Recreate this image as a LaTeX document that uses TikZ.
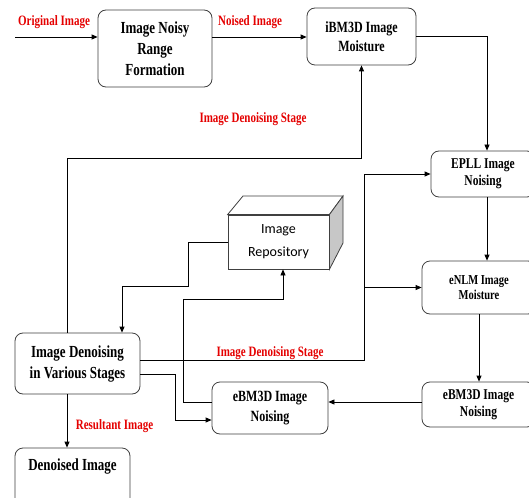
\documentclass[tikz,border=0pt]{standalone}
\usepackage{fontspec}
\usepackage{graphicx}
\setmainfont{Liberation Serif}
\newfontfamily\carl{Carlito}
\newcommand\tl[1]{\scalebox{1}[1.3]{#1}}
\usetikzlibrary{arrows.meta}
\tikzset{
  box/.style={draw=black!75, rounded corners=8pt, line width=0.8pt, align=center, inner sep=0pt},
  fA/.style={font=\bfseries\fontsize{13}{21}\selectfont},
  fB/.style={font=\bfseries\fontsize{12}{19.5}\selectfont},
  fC/.style={font=\bfseries\fontsize{11.5}{17}\selectfont},
  fD/.style={font=\bfseries\fontsize{10.5}{15}\selectfont},
  lab/.style={text=red!90!black, font=\bfseries\fontsize{11}{13}\selectfont, inner sep=0pt},
  conn/.style={line width=0.8pt, -{Triangle[length=6pt,width=5pt]}},
  plain/.style={line width=0.8pt}
}
\begin{document}
\begin{tikzpicture}[x=1pt,y=-1pt]
\useasboundingbox (0,0) rectangle (529,497);
\clip (0,0) rectangle (529,497);
\fill[white] (0,0) rectangle (529,497);
% boxes
\node[box,fA,minimum width=114,minimum height=77] (noisy) at (155,48.5) {\tl{Image Noisy}\\\tl{Range}\\\tl{Formation}};
\node[box,fB,minimum width=109,minimum height=57] (ibm) at (361.5,36.5) {\tl{iBM3D Image}\\\tl{Moisture}};
\node[box,fC,minimum width=104,minimum height=46] (epll) at (483,174) {\tl{EPLL Image}\\\tl{Noising}};
\node[box,fD,minimum width=114,minimum height=53] (enlm) at (479,287.5) {\tl{eNLM Image}\\\tl{Moisture}};
\node[box,fC,minimum width=113,minimum height=45] (ebmr) at (478.5,404.5) {\tl{eBM3D Image}\\\tl{Noising}};
\node[box,fB,minimum width=116,minimum height=52] (ebml) at (270,408) {\tl{eBM3D Image}\\\tl{Noising}};
\node[box,fA,minimum width=125,minimum height=61] (stages) at (77.5,363.5) {\tl{Image Denoising}\\\tl{in Various Stages}};
\node[box,minimum width=115,minimum height=62,
  label={[anchor=north,inner sep=0pt,yshift=-11pt,fA]north:\tl{Denoised Image}}] (denoised) at (72.5,479) {};
% repository cuboid
\node[draw=black!75,line width=0.8pt,minimum width=101,minimum height=54,inner sep=0pt,align=center,
  font=\carl\fontsize{14}{23}\selectfont] (repo) at (278.5,242) {Image\\Repository};
\draw[plain,draw=black!75,fill=white] (repo.north west) -- (243,196) -- (343,196) -- (repo.north east) -- cycle;
\draw[plain,draw=black!75,fill=black!22] (repo.north east) -- (343,196) -- (343,243) -- (repo.south east) -- cycle;
% labels
\node[lab] (l1) at (54,22) {\tl{Original Image}};
\node[lab] (l2) at (250,22) {\tl{Noised Image}};
\node[lab] (l3) at (253,119) {\tl{Image Denoising Stage}};
\node[lab] (l4) at (270,353) {\tl{Image Denoising Stage}};
\node[lab] (l5) at (114.5,426) {\tl{Resultant Image}};
% coordinates
\coordinate (start) at (15,37);
\coordinate (jA) at (67,158);
\coordinate (r1) at (188,286);
\coordinate (r2) at (122,286);
\coordinate (s1) at (364,360);
\coordinate (s2) at (175,374);
\coordinate (s3) at (0,420);
\coordinate (e1) at (183,402);
\coordinate (e2) at (283,299);
\coordinate (d1) at (67,420);
\coordinate (k1) at (487,0);
\coordinate (k2) at (0,402);
% connectors
\draw[conn] (start) -- (start -| noisy.west);
\draw[conn] (noisy.east |- start) -- (ibm.west |- start);
\draw[conn] (ibm.east) -| (k1 |- epll.north);
\draw[conn] (k1 |- epll.south) -- (k1 |- enlm.north);
\draw[conn] (enlm.south) -- (enlm.south |- ebmr.north);
\draw[conn] (ebmr.west |- k2) -- (ebml.east |- k2);
\draw[conn] (stages.north -| jA) -- (jA) -| (ibm.south);
\draw[conn] (repo.west) -| (r1) -- (r2) -- (stages.north -| r2);
\draw[conn] (stages.east |- s1) -- (s1) |- (epll.west);
\draw[conn] (s1 |- enlm.west) -- (enlm.west);
\draw[conn] (stages.east |- s2) -- (s2) |- (ebml.west |- s3);
\draw[conn] (ebml.west |- e1) -- (e1) |- (e2) -- (e2 |- repo.south);
\draw[conn] (stages.south -| d1) -- (denoised.north -| d1);
\end{tikzpicture}
\end{document}
